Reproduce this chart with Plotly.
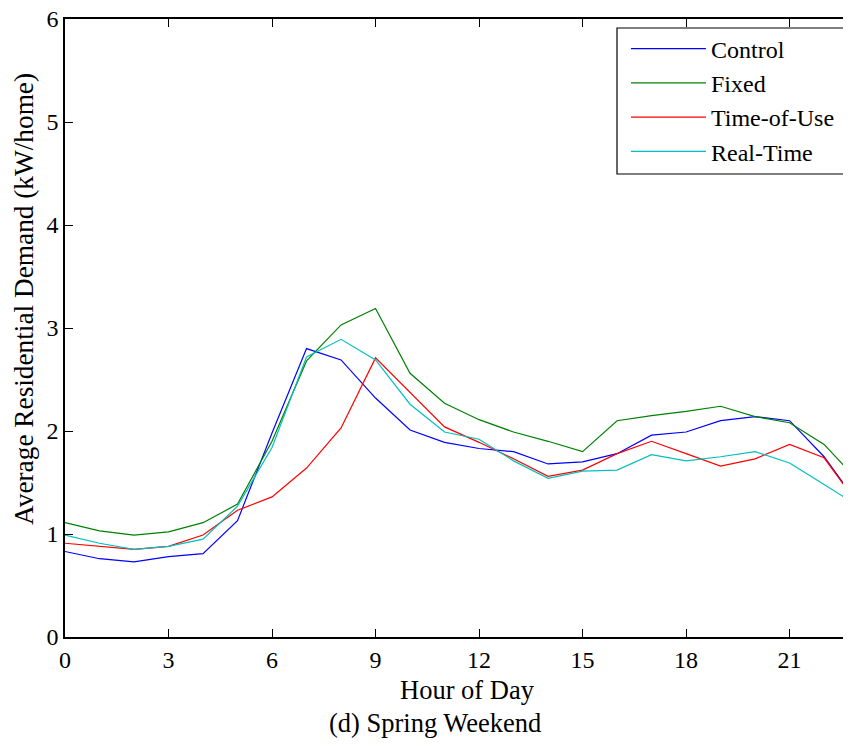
import plotly.graph_objects as go

hours = list(range(24))
control = [0.83, 0.76, 0.73, 0.78, 0.81, 1.13, 1.98, 2.80, 2.69, 2.32, 2.01, 1.89,
           1.83, 1.80, 1.68, 1.70, 1.78, 1.96, 1.99, 2.10, 2.14, 2.10, 1.75, 1.29]
fixed = [1.11, 1.03, 0.99, 1.02, 1.11, 1.29, 1.90, 2.68, 3.03, 3.19, 2.56, 2.27,
         2.11, 1.99, 1.90, 1.80, 2.10, 2.15, 2.19, 2.24, 2.14, 2.08, 1.87, 1.51]
tou = [0.91, 0.88, 0.85, 0.88, 0.99, 1.23, 1.36, 1.64, 2.03, 2.71, 2.38, 2.04,
       1.89, 1.73, 1.56, 1.62, 1.78, 1.90, 1.78, 1.66, 1.73, 1.87, 1.74, 1.28]
realtime = [0.99, 0.91, 0.85, 0.88, 0.95, 1.27, 1.84, 2.72, 2.89, 2.69, 2.26, 1.99,
            1.92, 1.71, 1.54, 1.61, 1.62, 1.77, 1.71, 1.75, 1.80, 1.69, 1.48, 1.27]

series = [("Control", control, "#0000FF"),
          ("Fixed", fixed, "#008000"),
          ("Time-of-Use", tou, "#FF0000"),
          ("Real-Time", realtime, "#00BFBF")]

xticks = [0, 3, 6, 9, 12, 15, 18, 21]
yticks = [0, 1, 2, 3, 4, 5, 6]

x_title = "Hour of Day"
y_title = "Average Residential Demand (kW/home)"
caption = "(d) Spring Weekend"

FONT = "Liberation Serif, Times New Roman, serif"
TITLE_SIZE = 26.5

fig = go.Figure()
for name, vals, col in series:
    fig.add_trace(go.Scatter(x=hours, y=vals, mode="lines", name=name,
                             line=dict(color=col, width=1.2)))

fig.update_layout(
    width=843, height=730,
    margin=dict(l=57, r=0, t=11, b=101),
    paper_bgcolor="white", plot_bgcolor="white",
    font=dict(family=FONT, size=24, color="black"),
    showlegend=True,
    legend=dict(x=0.7137, y=0.9877, xanchor="left", yanchor="top",
                borderwidth=0, bgcolor="rgba(0,0,0,0)",
                font=dict(family=FONT, size=24, color="black"),
                itemwidth=75, tracegroupgap=0),
    shapes=[dict(type="rect", xref="paper", yref="paper",
                 x0=0.7023, x1=1.05, y0=0.7492, y1=0.9854,
                 line=dict(color="black", width=1.2), fillcolor="white",
                 layer="above")],
    annotations=[
        dict(text=x_title, x=0.5115, xref="paper", y=-0.0858, yref="paper",
             xanchor="center", yanchor="middle", showarrow=False,
             font=dict(family=FONT, size=TITLE_SIZE)),
        dict(text=y_title, x=-0.0522, xref="paper", y=0.547, yref="paper",
             xanchor="center", yanchor="middle", textangle=-90, showarrow=False,
             font=dict(family=FONT, size=27.3)),
        dict(text=caption, x=0.4707, xref="paper", y=-0.139, yref="paper",
             xanchor="center", yanchor="middle", showarrow=False,
             font=dict(family=FONT, size=TITLE_SIZE)),
    ],
)
fig.update_xaxes(range=[0, 22.78], tickvals=xticks, ticktext=[str(v) for v in xticks],
                 showline=True, linecolor="black", linewidth=1.5, mirror="ticks",
                 ticks="inside", ticklen=8, tickcolor="black", showgrid=False,
                 zeroline=False, automargin=False, tickfont=dict(size=24))
fig.update_yaxes(range=[0, 6], tickvals=yticks, ticktext=[str(v) for v in yticks],
                 showline=True, linecolor="black", linewidth=1.5,
                 ticks="inside", ticklen=8, tickcolor="black", showgrid=False,
                 zeroline=False, automargin=False, tickfont=dict(size=24),
                 ticklabeloverflow="allow")

fig.write_html("out.html")
